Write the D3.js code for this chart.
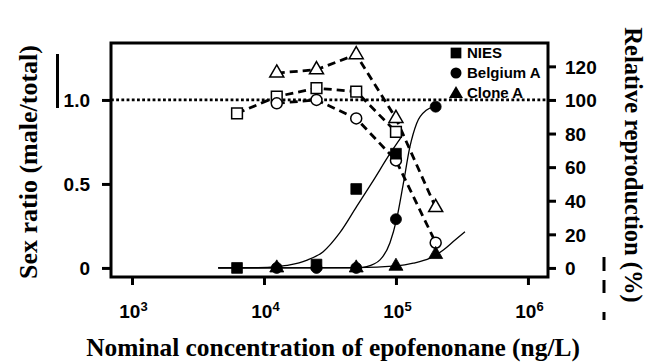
<!DOCTYPE html>
<html>
<head>
<meta charset="utf-8">
<script src="https://cdn.jsdelivr.net/npm/d3@7"></script>
<style>
  html, body { margin: 0; padding: 0; background: #fff; }
  svg { display: block; }
  .sans { font-family: "Liberation Sans", Arial, Helvetica, sans-serif; font-weight: bold; }
  .serif { font-family: "Liberation Serif", "Times New Roman", Times, "DejaVu Serif", serif; font-weight: bold; }
</style>
</head>
<body>
<svg id="chart" width="653" height="362"></svg>
<script>
// ---------------- DATA ----------------
const concentrations = [6250, 12500, 25000, 50000, 100000, 200000];
const xTickValues = [1e3, 1e4, 1e5, 1e6];
const leftTickValues = [0, 0.5, 1.0];
const leftTickLabels = ["0", "0.5", "1.0"];
const rightTickValues = [0, 20, 40, 60, 80, 100, 120];

// Sex ratio (filled markers); null = not shown
const sexNIES     = [0, null, 0.02, 0.47, 0.68, null];
const sexBelgium  = [null, 0, 0, 0, 0.29, 0.96];
const sexClone    = [null, 0, null, 0, 0.01, 0.08];

// Relative reproduction % (open markers, dashed)
const reproNIES    = [92, 102, 107, 105, 81, null];
const reproBelgium = [null, 98, 100, 89, 64, 15];
const reproClone   = [null, 116, 118, 127, 89, 36];

// Fitted curves: [concentration, sex ratio]
const fitNIES = [[4500,0],[9000,0.002],[12500,0.008],[15700,0.018],[21000,0.045],[28100,0.097],[37600,0.21],[50300,0.365],[67300,0.52],[90100,0.68],[110000,0.78]];
const fitBelgium = [[4500,0],[40000,0],[52000,0.002],[60000,0.008],[75700,0.048],[90100,0.15],[101200,0.29],[113600,0.50],[127500,0.72],[143400,0.86],[170700,0.94],[197200,0.96]];
const fitClone = [[4500,0],[50000,0.002],[101200,0.012],[135200,0.028],[181000,0.058],[228600,0.107],[271800,0.157],[333300,0.216]];

const legendNames = ["NIES", "Belgium A", "Clone A"];
const titleX = "Nominal concentration of epofenonane (ng/L)";
const titleLeft = "Sex ratio (male/total)";
const titleRight = "Relative reproduction (%)";

// ---------------- LAYOUT ----------------
const L = 111, R = 548, T = 43, B = 277;
const svg = d3.select("#chart");

const x = d3.scaleLog().domain([Math.pow(10, 2.841), Math.pow(10, 6.152)]).range([L, R]);
const y = d3.scaleLinear().domain([-0.054, 1.339]).range([B, T]);
const yR = d3.scaleLinear().domain([-5.4, 133.9]).range([B, T]);

// Dotted reference line at 1.0
svg.append("line")
  .attr("x1", L).attr("x2", R)
  .attr("y1", y(1)).attr("y2", y(1))
  .attr("stroke", "#000").attr("stroke-width", 2.8)
  .attr("stroke-dasharray", "2.8,2.4");

// Dashed lines (relative reproduction)
const lineR = d3.line().x(d => x(d[0])).y(d => yR(d[1]));
[reproNIES, reproBelgium, reproClone].forEach(arr => {
  const pts = concentrations.map((c, i) => [c, arr[i]]).filter(d => d[1] != null);
  svg.append("path").attr("d", lineR(pts))
    .attr("fill", "none").attr("stroke", "#000")
    .attr("stroke-width", 2.8).attr("stroke-dasharray", "8,5");
});

// Fitted curves
const lineFit = d3.line().x(d => x(d[0])).y(d => y(d[1])).curve(d3.curveMonotoneX);
[fitNIES, fitBelgium, fitClone].forEach(arr => {
  svg.append("path").attr("d", lineFit(arr))
    .attr("fill", "none").attr("stroke", "#000").attr("stroke-width", 1.3);
});

// Symbols
const symSquare = d3.symbol().type(d3.symbolSquare).size(115);
const symCircle = d3.symbol().type(d3.symbolCircle).size(95);
const symTri = d3.symbol().type(d3.symbolTriangle).size(85);
const symbols = [symSquare, symCircle, symTri];

// Open markers
[reproNIES, reproBelgium, reproClone].forEach((arr, k) => {
  const pts = concentrations.map((c, i) => [c, arr[i]]).filter(d => d[1] != null);
  svg.append("g").selectAll("path").data(pts).join("path")
    .attr("d", symbols[k]())
    .attr("transform", d => `translate(${x(d[0])},${yR(d[1])})`)
    .attr("fill", "#fff").attr("stroke", "#000").attr("stroke-width", 1.5);
});

// Filled markers
[sexBelgium, sexClone, sexNIES].forEach((arr, kk) => {
  const k = [1, 2, 0][kk];
  const pts = concentrations.map((c, i) => [c, arr[i]]).filter(d => d[1] != null);
  svg.append("g").selectAll("path").data(pts).join("path")
    .attr("d", symbols[k]())
    .attr("transform", d => `translate(${x(d[0])},${y(d[1])})`)
    .attr("fill", "#000").attr("stroke", "#000").attr("stroke-width", 0.8);
});

// Frame
svg.append("rect").attr("x", L).attr("y", T).attr("width", R - L).attr("height", B - T)
  .attr("fill", "none").attr("stroke", "#000").attr("stroke-width", 3);

// Left axis
const gL = svg.append("g").attr("transform", `translate(${L},0)`)
  .call(d3.axisLeft(y).tickValues(leftTickValues).tickSize(9).tickPadding(12)
    .tickFormat((d, i) => leftTickLabels[i]));
// Right axis
const gR = svg.append("g").attr("transform", `translate(${R},0)`)
  .call(d3.axisRight(yR).tickValues(rightTickValues).tickSize(8).tickPadding(9)
    .tickFormat(d3.format("d")));
// Bottom axis
const gB = svg.append("g").attr("transform", `translate(0,${B})`)
  .call(d3.axisBottom(x).tickValues(xTickValues).tickSize(8).tickFormat(() => ""));

[gL, gR, gB].forEach(g => {
  g.attr("font-family", null).attr("font-size", null);
  g.select(".domain").remove();
  g.selectAll(".tick line").attr("stroke", "#000").attr("stroke-width", 3);
  g.selectAll(".tick text").attr("fill", "#000").attr("class", "sans")
    .style("font-size", "19px");
});
gL.selectAll(".tick text").attr("dy", "0.36em");
gR.selectAll(".tick text").attr("dy", "0.36em");

gB.selectAll(".tick text").each(function(d) {
  const t = d3.select(this);
  t.text(null).attr("y", 41).attr("dy", 0).attr("x", 1).attr("text-anchor", "middle");
  t.append("tspan").text("10");
  t.append("tspan").attr("dy", "-0.55em").style("font-size", "13px")
    .text(Math.round(Math.log10(d)));
});

// Legend
const legX = 456, legY0 = 53, legDY = 20;
legendNames.forEach((name, i) => {
  const cy = legY0 + i * legDY;
  svg.append("path").attr("d", symbols[i]())
    .attr("transform", `translate(${legX},${cy + (i === 2 ? 1 : 0)})`)
    .attr("fill", "#000");
  svg.append("text").attr("x", legX + 11).attr("y", cy).attr("dy", "0.36em")
    .attr("class", "sans").style("font-size", "15px")
    .text(name);
});

// Axis titles
svg.append("text").attr("x", 333).attr("y", 356).attr("text-anchor", "middle")
  .attr("class", "serif").style("font-size", "25.4px")
  .text(titleX);
svg.append("text").attr("transform", "translate(37,162) rotate(-90)").attr("text-anchor", "middle")
  .attr("class", "serif").style("font-size", "26px")
  .text(titleLeft);
svg.append("text").attr("transform", "translate(625,165) rotate(90)").attr("text-anchor", "middle")
  .attr("class", "serif").style("font-size", "24.5px")
  .text(titleRight);

// Stray marks present in the original figure
svg.append("line").attr("x1", 57.5).attr("x2", 57.5).attr("y1", 54).attr("y2", 108)
  .attr("stroke", "#000").attr("stroke-width", 3);
[[257, 271], [280, 293], [312, 320]].forEach(s => {
  svg.append("line").attr("x1", 604).attr("x2", 604).attr("y1", s[0]).attr("y2", s[1])
    .attr("stroke", "#000").attr("stroke-width", 3);
});
</script>
</body>
</html>
